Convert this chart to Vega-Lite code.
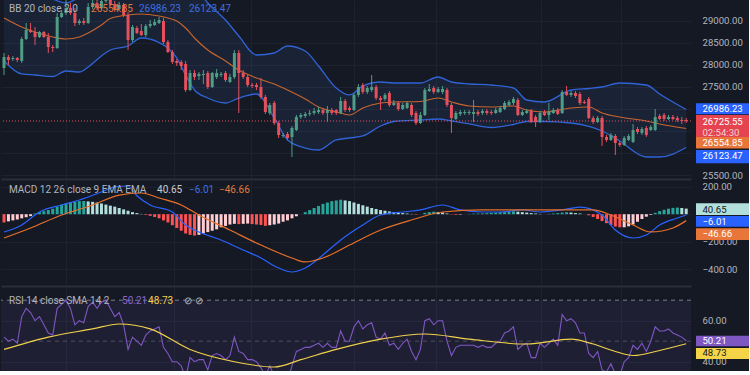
{
"$schema":"https://vega.github.io/schema/vega-lite/v6.json",
"background":"#151924",
"padding":0,
"spacing":1,
"config":{"view":{"stroke":null},"font":"Roboto","axis":{"labelColor":"#b2b5be","labelFontSize":9.6,"labelPadding":11,"ticks":false,"tickSize":0,"domainColor":"#2a2e39","gridColor":"#1e2230","labelOverlap":false}},
"datasets":{
"candles":[
{"i":0,"o":27928,"h":28268,"l":27769,"c":28177},{"i":1,"o":28177,"h":28223,"l":27996,"c":28109},{"i":2,"o":28132,"h":28200,"l":28087,"c":28155},{"i":3,"o":28155,"h":28177,"l":28064,"c":28109},{"i":4,"o":28087,"h":28631,"l":28041,"c":28586},{"i":5,"o":28586,"h":28948,"l":28563,"c":28790},{"i":6,"o":28790,"h":28948,"l":28722,"c":28744},{"i":7,"o":28744,"h":28858,"l":28449,"c":28631},{"i":8,"o":28631,"h":28767,"l":28608,"c":28744},{"i":9,"o":28744,"h":28767,"l":28608,"c":28631},
{"i":10,"o":28631,"h":28722,"l":28268,"c":28404},{"i":11,"o":28404,"h":28449,"l":28291,"c":28381},{"i":12,"o":28381,"h":29175,"l":28359,"c":29084},{"i":13,"o":29084,"h":29243,"l":29062,"c":29175},{"i":14,"o":29175,"h":29470,"l":29130,"c":29289},{"i":15,"o":29289,"h":29402,"l":29130,"c":29175},{"i":16,"o":29175,"h":29289,"l":28880,"c":28948},{"i":17,"o":28948,"h":29039,"l":28903,"c":28994},{"i":18,"o":28994,"h":29062,"l":28903,"c":28948},{"i":19,"o":28948,"h":29402,"l":28926,"c":29311},
{"i":20,"o":29311,"h":29515,"l":29266,"c":29402},{"i":21,"o":29402,"h":29470,"l":29243,"c":29289},{"i":22,"o":29289,"h":29561,"l":29266,"c":29447},{"i":23,"o":29447,"h":29583,"l":29402,"c":29515},{"i":24,"o":29515,"h":29561,"l":29334,"c":29379},{"i":25,"o":29379,"h":29447,"l":29198,"c":29266},{"i":26,"o":29266,"h":29425,"l":29221,"c":29357},{"i":27,"o":29357,"h":29402,"l":29084,"c":29130},{"i":28,"o":29130,"h":29198,"l":28336,"c":28563},{"i":29,"o":28563,"h":28903,"l":28517,"c":28858},
{"i":30,"o":28835,"h":28880,"l":28699,"c":28722},{"i":31,"o":28767,"h":28926,"l":28654,"c":28676},{"i":32,"o":28676,"h":28926,"l":28631,"c":28880},{"i":33,"o":28880,"h":29016,"l":28835,"c":28926},{"i":34,"o":28903,"h":29039,"l":28880,"c":28971},{"i":35,"o":28948,"h":29084,"l":28926,"c":29016},{"i":36,"o":28994,"h":29062,"l":28472,"c":28517},{"i":37,"o":28517,"h":28563,"l":28268,"c":28291},{"i":38,"o":28291,"h":28336,"l":28019,"c":28064},{"i":39,"o":28087,"h":28132,"l":27973,"c":28041},
{"i":40,"o":28064,"h":28109,"l":27882,"c":27973},{"i":41,"o":28019,"h":28087,"l":27384,"c":27429},{"i":42,"o":27429,"h":27882,"l":27406,"c":27814},{"i":43,"o":27814,"h":27882,"l":27656,"c":27724},{"i":44,"o":27746,"h":27837,"l":27656,"c":27792},{"i":45,"o":27769,"h":27882,"l":27565,"c":27792},{"i":46,"o":27814,"h":27860,"l":27452,"c":27497},{"i":47,"o":27497,"h":27837,"l":27474,"c":27814},{"i":48,"o":27724,"h":27905,"l":27678,"c":27814},{"i":49,"o":27769,"h":27837,"l":27724,"c":27792},
{"i":50,"o":27814,"h":27860,"l":27610,"c":27656},{"i":51,"o":27610,"h":27792,"l":27588,"c":27724},{"i":52,"o":27724,"h":28336,"l":27678,"c":28268},{"i":53,"o":28268,"h":28336,"l":26907,"c":27814},{"i":54,"o":27814,"h":27882,"l":27678,"c":27724},{"i":55,"o":27724,"h":27769,"l":27497,"c":27542},{"i":56,"o":27542,"h":27588,"l":27474,"c":27520},{"i":57,"o":27542,"h":27588,"l":27429,"c":27497},{"i":58,"o":27497,"h":27701,"l":27225,"c":27270},{"i":59,"o":27270,"h":27316,"l":26885,"c":26930},
{"i":60,"o":26907,"h":27134,"l":26862,"c":27089},{"i":61,"o":27134,"h":27179,"l":26635,"c":26680},{"i":62,"o":26680,"h":26726,"l":26340,"c":26408},{"i":63,"o":26386,"h":26454,"l":26340,"c":26408},{"i":64,"o":26431,"h":26476,"l":26295,"c":26340},{"i":65,"o":26363,"h":26612,"l":25909,"c":26567},{"i":66,"o":26522,"h":26862,"l":26499,"c":26816},{"i":67,"o":26816,"h":26907,"l":26771,"c":26862},{"i":68,"o":26839,"h":26930,"l":26794,"c":26885},{"i":69,"o":26885,"h":26975,"l":26839,"c":26907},
{"i":70,"o":26907,"h":27021,"l":26862,"c":26953},{"i":71,"o":26930,"h":27043,"l":26885,"c":26975},{"i":72,"o":26975,"h":27021,"l":26862,"c":26907},{"i":73,"o":26907,"h":27066,"l":26703,"c":26975},{"i":74,"o":26975,"h":27021,"l":26862,"c":26907},{"i":75,"o":26975,"h":26998,"l":26862,"c":26907},{"i":76,"o":26907,"h":27270,"l":26885,"c":27179},{"i":77,"o":27179,"h":27225,"l":26930,"c":26975},{"i":78,"o":27021,"h":27066,"l":26930,"c":26975},{"i":79,"o":26975,"h":27361,"l":26953,"c":27316},
{"i":80,"o":27316,"h":27565,"l":27270,"c":27497},{"i":81,"o":27542,"h":27588,"l":27338,"c":27384},{"i":82,"o":27384,"h":27520,"l":27338,"c":27474},{"i":83,"o":27429,"h":27769,"l":27384,"c":27497},{"i":84,"o":27497,"h":27542,"l":27202,"c":27247},{"i":85,"o":27247,"h":27293,"l":26975,"c":27202},{"i":86,"o":27225,"h":27361,"l":27179,"c":27316},{"i":87,"o":27361,"h":27406,"l":27043,"c":27089},{"i":88,"o":27089,"h":27202,"l":27066,"c":27134},{"i":89,"o":27134,"h":27179,"l":26953,"c":26998},
{"i":90,"o":26998,"h":27134,"l":26975,"c":27089},{"i":91,"o":27021,"h":27179,"l":26998,"c":27134},{"i":92,"o":27089,"h":27134,"l":26816,"c":26862},{"i":93,"o":26907,"h":26953,"l":26635,"c":26680},{"i":94,"o":26680,"h":26930,"l":26658,"c":26862},{"i":95,"o":26862,"h":27474,"l":26839,"c":27429},{"i":96,"o":27406,"h":27565,"l":27384,"c":27452},{"i":97,"o":27474,"h":27520,"l":27338,"c":27384},{"i":98,"o":27384,"h":27497,"l":27361,"c":27452},{"i":99,"o":27384,"h":27520,"l":27338,"c":27452},
{"i":100,"o":27429,"h":27474,"l":27043,"c":27089},{"i":101,"o":27089,"h":27134,"l":26454,"c":26794},{"i":102,"o":26771,"h":26953,"l":26748,"c":26907},{"i":103,"o":26885,"h":26975,"l":26839,"c":26930},{"i":104,"o":26907,"h":26975,"l":26862,"c":26930},{"i":105,"o":26907,"h":26975,"l":26862,"c":26930},{"i":106,"o":26885,"h":27202,"l":26703,"c":26930},{"i":107,"o":26930,"h":26975,"l":26839,"c":26885},{"i":108,"o":26907,"h":26998,"l":26862,"c":26953},{"i":109,"o":26953,"h":26998,"l":26862,"c":26907},
{"i":110,"o":26930,"h":26975,"l":26862,"c":26907},{"i":111,"o":26907,"h":27021,"l":26885,"c":26975},{"i":112,"o":26930,"h":27066,"l":26907,"c":27021},{"i":113,"o":26998,"h":27179,"l":26975,"c":27134},{"i":114,"o":27089,"h":27202,"l":27066,"c":27157},{"i":115,"o":27134,"h":27270,"l":27089,"c":27225},{"i":116,"o":27202,"h":27247,"l":26839,"c":26862},{"i":117,"o":26862,"h":26975,"l":26839,"c":26930},{"i":118,"o":26907,"h":26998,"l":26885,"c":26953},{"i":119,"o":26953,"h":26998,"l":26680,"c":26703},
{"i":120,"o":26816,"h":26862,"l":26590,"c":26703},{"i":121,"o":26703,"h":26953,"l":26680,"c":26907},{"i":122,"o":26930,"h":26975,"l":26839,"c":26862},{"i":123,"o":26862,"h":27134,"l":26748,"c":26930},{"i":124,"o":26907,"h":27021,"l":26885,"c":26975},{"i":125,"o":26975,"h":27021,"l":26862,"c":26885},{"i":126,"o":26907,"h":27429,"l":26885,"c":27384},{"i":127,"o":27384,"h":27520,"l":27293,"c":27316},{"i":128,"o":27316,"h":27406,"l":27270,"c":27361},{"i":129,"o":27361,"h":27406,"l":27247,"c":27293},
{"i":130,"o":27338,"h":27384,"l":27089,"c":27134},{"i":131,"o":27157,"h":27202,"l":27111,"c":27134},{"i":132,"o":27225,"h":27270,"l":26771,"c":26794},{"i":133,"o":26794,"h":26839,"l":26658,"c":26703},{"i":134,"o":26703,"h":26839,"l":26680,"c":26794},{"i":135,"o":26794,"h":26839,"l":26159,"c":26363},{"i":136,"o":26363,"h":26408,"l":26249,"c":26295},{"i":137,"o":26295,"h":26454,"l":26272,"c":26408},{"i":138,"o":26386,"h":26431,"l":25955,"c":26227},{"i":139,"o":26227,"h":26272,"l":26136,"c":26181},
{"i":140,"o":26181,"h":26386,"l":26159,"c":26340},{"i":141,"o":26295,"h":26431,"l":26272,"c":26386},{"i":142,"o":26249,"h":26658,"l":26227,"c":26522},{"i":143,"o":26544,"h":26590,"l":26431,"c":26476},{"i":144,"o":26454,"h":26590,"l":26408,"c":26544},{"i":145,"o":26567,"h":26612,"l":26363,"c":26408},{"i":146,"o":26522,"h":26635,"l":26499,"c":26590},{"i":147,"o":26522,"h":26998,"l":26499,"c":26816},{"i":148,"o":26839,"h":26885,"l":26748,"c":26771},{"i":149,"o":26862,"h":26907,"l":26726,"c":26771},
{"i":150,"o":26771,"h":26862,"l":26748,"c":26816},{"i":151,"o":26816,"h":26862,"l":26748,"c":26771},{"i":152,"o":26794,"h":26839,"l":26703,"c":26748},{"i":153,"o":26748,"h":26816,"l":26658,"c":26726},{"i":154,"o":26748,"h":26794,"l":26680,"c":26725.55}
],
"bb":[
{"i":0,"up":30037,"mid":29062,"lo":28087},{"i":4,"up":29924,"mid":28858,"lo":27792},{"i":7,"up":29719,"mid":28744,"lo":27769},{"i":11,"up":29493,"mid":28631,"lo":27735},{"i":14,"up":29402,"mid":28586,"lo":27860},{"i":17,"up":29538,"mid":28631,"lo":27837},{"i":19,"up":29651,"mid":28722,"lo":27950},{"i":22,"up":29606,"mid":28903,"lo":28200},{"i":24,"up":29765,"mid":29050,"lo":28336},{"i":28,"up":29833,"mid":29130,"lo":28427},
{"i":31,"up":29697,"mid":29153,"lo":28608},{"i":35,"up":29708,"mid":29107,"lo":28506},{"i":37,"up":29742,"mid":29062,"lo":28381},{"i":39,"up":29833,"mid":28994,"lo":28155},{"i":41,"up":29901,"mid":28835,"lo":27769},{"i":43,"up":29788,"mid":28608,"lo":27429},{"i":46,"up":29402,"mid":28336,"lo":27247},{"i":50,"up":29016,"mid":28087,"lo":27134},{"i":53,"up":28654,"mid":27882,"lo":27247},{"i":57,"up":28223,"mid":27701,"lo":27338},
{"i":61,"up":28268,"mid":27565,"lo":26794},{"i":64,"up":28427,"mid":27429,"lo":26295},{"i":68,"up":28313,"mid":27225,"lo":26113},{"i":71,"up":27973,"mid":27043,"lo":26068},{"i":75,"up":27474,"mid":26930,"lo":26295},{"i":78,"up":27316,"mid":26862,"lo":26340},{"i":81,"up":27520,"mid":27021,"lo":26386},{"i":85,"up":27610,"mid":27134,"lo":26612},{"i":88,"up":27588,"mid":27157,"lo":26714},{"i":94,"up":27588,"mid":27168,"lo":26748},
{"i":98,"up":27724,"mid":27247,"lo":26771},{"i":101,"up":27610,"mid":27157,"lo":26726},{"i":105,"up":27565,"mid":27066,"lo":26658},{"i":110,"up":27542,"mid":27043,"lo":26578},{"i":115,"up":27474,"mid":27066,"lo":26646},{"i":118,"up":27202,"mid":26975,"lo":26714},{"i":122,"up":27157,"mid":26930,"lo":26714},{"i":128,"up":27429,"mid":27021,"lo":26680},{"i":132,"up":27463,"mid":27043,"lo":26601},{"i":135,"up":27497,"mid":26907,"lo":26499},
{"i":139,"up":27588,"mid":26816,"lo":26272},{"i":145,"up":27542,"mid":26726,"lo":25909},{"i":148,"up":27338,"mid":26658,"lo":25909},{"i":154,"up":26986.23,"mid":26554.85,"lo":26123.47}
],
"last":[{"k":"up","v":26986.23},{"k":"close","v":26725.55,"cd":"02:54:30"},{"k":"mid","v":26554.85},{"k":"lo","v":26123.47}],
"hist":[
{"i":0,"h":-60},{"i":1,"h":-52},{"i":2,"h":-45},{"i":3,"h":-38},{"i":4,"h":-30},{"i":5,"h":-22},{"i":6,"h":-14},{"i":7,"h":5},{"i":8,"h":15},{"i":9,"h":22},{"i":10,"h":30},{"i":11,"h":40},{"i":12,"h":55},{"i":13,"h":70},{"i":14,"h":80},{"i":15,"h":88},{"i":16,"h":92},{"i":17,"h":95},{"i":18,"h":96},{"i":19,"h":93},
{"i":20,"h":90},{"i":21,"h":85},{"i":22,"h":78},{"i":23,"h":70},{"i":24,"h":62},{"i":25,"h":55},{"i":26,"h":45},{"i":27,"h":35},{"i":28,"h":25},{"i":29,"h":15},{"i":30,"h":8},{"i":31,"h":2},{"i":32,"h":-5},{"i":33,"h":-12},{"i":34,"h":-20},{"i":35,"h":-30},{"i":36,"h":-45},{"i":37,"h":-60},{"i":38,"h":-80},{"i":39,"h":-100},
{"i":40,"h":-120},{"i":41,"h":-140},{"i":42,"h":-150},{"i":43,"h":-155},{"i":44,"h":-150},{"i":45,"h":-140},{"i":46,"h":-130},{"i":47,"h":-120},{"i":48,"h":-110},{"i":49,"h":-95},{"i":50,"h":-85},{"i":51,"h":-75},{"i":52,"h":-70},{"i":53,"h":-72},{"i":54,"h":-70},{"i":55,"h":-68},{"i":56,"h":-72},{"i":57,"h":-75},{"i":58,"h":-78},{"i":59,"h":-85},
{"i":60,"h":-80},{"i":61,"h":-75},{"i":62,"h":-68},{"i":63,"h":-55},{"i":64,"h":-45},{"i":65,"h":-30},{"i":66,"h":-15},{"i":67,"h":0},{"i":68,"h":15},{"i":69,"h":30},{"i":70,"h":45},{"i":71,"h":60},{"i":72,"h":75},{"i":73,"h":85},{"i":74,"h":95},{"i":75,"h":100},{"i":76,"h":105},{"i":77,"h":100},{"i":78,"h":95},{"i":79,"h":85},
{"i":80,"h":75},{"i":81,"h":65},{"i":82,"h":55},{"i":83,"h":45},{"i":84,"h":38},{"i":85,"h":30},{"i":86,"h":25},{"i":87,"h":20},{"i":88,"h":15},{"i":89,"h":10},{"i":90,"h":8},{"i":91,"h":5},{"i":92,"h":2},{"i":93,"h":-3},{"i":94,"h":0},{"i":95,"h":10},{"i":96,"h":15},{"i":97,"h":18},{"i":98,"h":16},{"i":99,"h":12},
{"i":100,"h":5},{"i":101,"h":-2},{"i":102,"h":-5},{"i":103,"h":-3},{"i":104,"h":0},{"i":105,"h":2},{"i":106,"h":4},{"i":107,"h":5},{"i":108,"h":6},{"i":109,"h":8},{"i":110,"h":10},{"i":111,"h":12},{"i":112,"h":15},{"i":113,"h":18},{"i":114,"h":20},{"i":115,"h":22},{"i":116,"h":18},{"i":117,"h":15},{"i":118,"h":12},{"i":119,"h":8},
{"i":120,"h":5},{"i":121,"h":2},{"i":122,"h":0},{"i":123,"h":3},{"i":124,"h":5},{"i":125,"h":8},{"i":126,"h":12},{"i":127,"h":15},{"i":128,"h":12},{"i":129,"h":8},{"i":130,"h":5},{"i":131,"h":0},{"i":132,"h":-8},{"i":133,"h":-20},{"i":134,"h":-35},{"i":135,"h":-50},{"i":136,"h":-65},{"i":137,"h":-78},{"i":138,"h":-90},{"i":139,"h":-95},
{"i":140,"h":-95},{"i":141,"h":-88},{"i":142,"h":-75},{"i":143,"h":-55},{"i":144,"h":-35},{"i":145,"h":-18},{"i":146,"h":-5},{"i":147,"h":10},{"i":148,"h":22},{"i":149,"h":32},{"i":150,"h":40},{"i":151,"h":46},{"i":152,"h":48},{"i":153,"h":45},{"i":154,"h":40.65}
],
"macd":[
{"i":0,"v":-129},{"i":4,"v":-78},{"i":8,"v":16},{"i":13,"v":67},{"i":17,"v":103},{"i":22,"v":161},{"i":25,"v":198},{"i":28,"v":205},{"i":30,"v":134},{"i":33,"v":67},{"i":38,"v":16},{"i":41,"v":-78},{"i":44,"v":-129},{"i":49,"v":-187},{"i":54,"v":-260},{"i":58,"v":-318},{"i":62,"v":-391},{"i":65,"v":-420},{"i":68,"v":-391},{"i":72,"v":-296},{"i":76,"v":-187},{"i":81,"v":-78},{"i":85,"v":-6},{"i":90,"v":16},{"i":94,"v":31},{"i":99,"v":67},{"i":103,"v":31},{"i":108,"v":16},{"i":112,"v":16},{"i":117,"v":31},{"i":121,"v":16},{"i":126,"v":31},{"i":130,"v":52},{"i":135,"v":-6},{"i":138,"v":-115},{"i":142,"v":-173},{"i":145,"v":-151},{"i":148,"v":-78},{"i":152,"v":-28},{"i":154,"v":-6.01}
],
"sig":[
{"i":0,"v":-173},{"i":6,"v":-100},{"i":13,"v":-6},{"i":20,"v":67},{"i":26,"v":139},{"i":31,"v":154},{"i":35,"v":118},{"i":40,"v":67},{"i":44,"v":-6},{"i":51,"v":-115},{"i":58,"v":-224},{"i":65,"v":-318},{"i":68,"v":-347},{"i":72,"v":-318},{"i":78,"v":-224},{"i":85,"v":-115},{"i":92,"v":-42},{"i":99,"v":16},{"i":108,"v":31},{"i":117,"v":31},{"i":126,"v":31},{"i":133,"v":31},{"i":137,"v":-6},{"i":142,"v":-78},{"i":146,"v":-129},{"i":151,"v":-100},{"i":154,"v":-46.66}
],
"mlast":[{"k":"hist","v":40.65},{"k":"macd","v":-6.01},{"k":"sig","v":-46.66}],
"rsi":[
{"i":0,"r":52},{"i":1,"r":50},{"i":2,"r":51},{"i":3,"r":49},{"i":4,"r":62},{"i":5,"r":66},{"i":6,"r":64},{"i":7,"r":60},{"i":8,"r":62},{"i":9,"r":58},{"i":10,"r":54},{"i":11,"r":53},{"i":12,"r":66},{"i":13,"r":68},{"i":14,"r":70},{"i":15,"r":66},{"i":16,"r":58},{"i":17,"r":60},{"i":18,"r":59},{"i":19,"r":67},
{"i":20,"r":69},{"i":21,"r":66},{"i":22,"r":69},{"i":23,"r":70},{"i":24,"r":66},{"i":25,"r":62},{"i":26,"r":64},{"i":27,"r":58},{"i":28,"r":46},{"i":29,"r":52},{"i":30,"r":50},{"i":31,"r":48},{"i":32,"r":53},{"i":33,"r":55},{"i":34,"r":56},{"i":35,"r":57},{"i":36,"r":47},{"i":37,"r":44},{"i":38,"r":40},{"i":39,"r":40},
{"i":40,"r":38},{"i":41,"r":32},{"i":42,"r":42},{"i":43,"r":40},{"i":44,"r":41},{"i":45,"r":41},{"i":46,"r":36},{"i":47,"r":43},{"i":48,"r":44},{"i":49,"r":43},{"i":50,"r":41},{"i":51,"r":43},{"i":52,"r":52},{"i":53,"r":45},{"i":54,"r":44},{"i":55,"r":41},{"i":56,"r":41},{"i":57,"r":40},{"i":58,"r":37},{"i":59,"r":33},
{"i":60,"r":38},{"i":61,"r":33},{"i":62,"r":30},{"i":63,"r":31},{"i":64,"r":30},{"i":65,"r":38},{"i":66,"r":45},{"i":67,"r":46},{"i":68,"r":47},{"i":69,"r":47},{"i":70,"r":48},{"i":71,"r":49},{"i":72,"r":47},{"i":73,"r":49},{"i":74,"r":47},{"i":75,"r":47},{"i":76,"r":55},{"i":77,"r":50},{"i":78,"r":50},{"i":79,"r":57},
{"i":80,"r":60},{"i":81,"r":56},{"i":82,"r":58},{"i":83,"r":59},{"i":84,"r":52},{"i":85,"r":51},{"i":86,"r":54},{"i":87,"r":48},{"i":88,"r":49},{"i":89,"r":46},{"i":90,"r":49},{"i":91,"r":51},{"i":92,"r":45},{"i":93,"r":41},{"i":94,"r":46},{"i":95,"r":60},{"i":96,"r":61},{"i":97,"r":58},{"i":98,"r":60},{"i":99,"r":60},
{"i":100,"r":50},{"i":101,"r":43},{"i":102,"r":47},{"i":103,"r":48},{"i":104,"r":48},{"i":105,"r":48},{"i":106,"r":48},{"i":107,"r":47},{"i":108,"r":48},{"i":109,"r":47},{"i":110,"r":47},{"i":111,"r":49},{"i":112,"r":50},{"i":113,"r":54},{"i":114,"r":55},{"i":115,"r":57},{"i":116,"r":46},{"i":117,"r":48},{"i":118,"r":49},{"i":119,"r":42},
{"i":120,"r":42},{"i":121,"r":49},{"i":122,"r":47},{"i":123,"r":49},{"i":124,"r":51},{"i":125,"r":48},{"i":126,"r":63},{"i":127,"r":60},{"i":128,"r":61},{"i":129,"r":59},{"i":130,"r":54},{"i":131,"r":54},{"i":132,"r":44},{"i":133,"r":42},{"i":134,"r":45},{"i":135,"r":36},{"i":136,"r":35},{"i":137,"r":39},{"i":138,"r":34},{"i":139,"r":33},
{"i":140,"r":40},{"i":141,"r":42},{"i":142,"r":48},{"i":143,"r":46},{"i":144,"r":49},{"i":145,"r":45},{"i":146,"r":50},{"i":147,"r":57},{"i":148,"r":55},{"i":149,"r":55},{"i":150,"r":56},{"i":151,"r":54},{"i":152,"r":53},{"i":153,"r":52},{"i":154,"r":50.21}
],
"rsma":[
{"i":0,"s":46},{"i":10,"s":52},{"i":20,"s":56},{"i":26,"s":58.4},{"i":33,"s":56},{"i":42,"s":46},{"i":52,"s":40},{"i":61,"s":37.4},{"i":67,"s":41},{"i":75,"s":46},{"i":85,"s":51},{"i":95,"s":53.5},{"i":105,"s":51},{"i":118,"s":48.6},{"i":128,"s":51},{"i":133,"s":48.6},{"i":138,"s":45},{"i":142,"s":43},{"i":148,"s":45.5},{"i":154,"s":48.73}
],
"rlast":[{"k":"rsi","v":50.21},{"k":"sma","v":48.73}]
},
"vconcat":[
{
"width":690,"height":179,
"layer":[
{"data":{"name":"bb"},"mark":{"type":"area","clip":true,"interpolate":"monotone","color":"#3a6ea8","opacity":0.13},
"encoding":{
"x":{"field":"i","type":"quantitative","title":null,"scale":{"domain":[-0.68,155.08],"nice":false,"zero":false,"padding":0},"axis":{"orient":"bottom","values":[14,38.4,55.8,79,97.5,121.2,139.3],"tickCount":30,"labels":false,"domain":true,"domainWidth":2,"grid":true}},
"y":{"field":"lo","type":"quantitative","title":null,"scale":{"domain":[25410,29470],"nice":false,"zero":false,"padding":0},"axis":{"orient":"right","values":[25500,26000,26500,27000,27500,28000,28500,29000],"tickCount":30,"format":".2f","labelExpr":"datum.value >= 26000 && datum.value <= 27000 ? '' : datum.label","labelOverlap":false,"domain":false,"grid":true}},
"y2":{"field":"up"}}},
{"data":{"name":"bb"},"mark":{"type":"line","clip":true,"interpolate":"monotone","color":"#2f63d6","strokeWidth":1.3},
"encoding":{"x":{"field":"i","type":"quantitative","title":null},"y":{"field":"up","type":"quantitative","title":null}}},
{"data":{"name":"bb"},"mark":{"type":"line","clip":true,"interpolate":"monotone","color":"#2f63d6","strokeWidth":1.3},
"encoding":{"x":{"field":"i","type":"quantitative","title":null},"y":{"field":"lo","type":"quantitative","title":null}}},
{"data":{"name":"bb"},"mark":{"type":"line","clip":true,"interpolate":"monotone","color":"#c8652f","strokeWidth":1.1},
"encoding":{"x":{"field":"i","type":"quantitative","title":null},"y":{"field":"mid","type":"quantitative","title":null}}},
{"data":{"name":"last"},"transform":[{"filter":"datum.k=='close'"}],"mark":{"type":"rule","color":"#e5505c","strokeDash":[1,2],"strokeWidth":1},
"encoding":{"y":{"field":"v","type":"quantitative","title":null}}},
{"data":{"name":"candles"},"mark":{"type":"rule","clip":true,"strokeWidth":1},
"encoding":{"x":{"field":"i","type":"quantitative","title":null},"y":{"field":"l","type":"quantitative","title":null},"y2":{"field":"h"},
"color":{"condition":{"test":"datum.c >= datum.o","value":"#4f9d86"},"value":"#e5505c"}}},
{"data":{"name":"candles"},"mark":{"type":"bar","clip":true,"width":3},
"encoding":{"x":{"field":"i","type":"quantitative","title":null},"y":{"field":"o","type":"quantitative","title":null},"y2":{"field":"c"},
"color":{"condition":{"test":"datum.c >= datum.o","value":"#4f9d86"},"value":"#e5505c"}}},
{"data":{"values":[{"t":"BB 20 close 2.0"}]},"mark":{"type":"text","align":"left","baseline":"middle","fontSize":10,"color":"#b2b5be"},
"encoding":{"text":{"field":"t"},"x":{"datum":1.13,"title":null},"y":{"datum":29277,"title":null}}},
{"data":{"name":"last"},"transform":[{"filter":"datum.k=='mid'"}],"mark":{"type":"text","align":"left","baseline":"middle","fontSize":10,"color":"#e07a3c"},
"encoding":{"text":{"field":"v","type":"quantitative","format":".2f"},"x":{"datum":19.64,"title":null},"y":{"datum":29277,"title":null}}},
{"data":{"name":"last"},"transform":[{"filter":"datum.k=='up'"}],"mark":{"type":"text","align":"left","baseline":"middle","fontSize":10,"color":"#3d6fe0"},
"encoding":{"text":{"field":"v","type":"quantitative","format":".2f"},"x":{"datum":30.47,"title":null},"y":{"datum":29277,"title":null}}},
{"data":{"name":"last"},"transform":[{"filter":"datum.k=='lo'"}],"mark":{"type":"text","align":"left","baseline":"middle","fontSize":10,"color":"#3d6fe0"},
"encoding":{"text":{"field":"v","type":"quantitative","format":".2f"},"x":{"datum":41.76,"title":null},"y":{"datum":29277,"title":null}}},
{"data":{"name":"last"},"transform":[{"filter":"datum.k=='up'"}],"mark":{"type":"rect","color":"#2962ff","yOffset":-6.2,"y2Offset":4.8},
"encoding":{"x":{"datum":156.21,"title":null},"x2":{"datum":168.17},"y":{"field":"v","type":"quantitative","title":null},"y2":{"field":"v"}}},
{"data":{"name":"last"},"transform":[{"filter":"datum.k=='close'"}],"mark":{"type":"rect","color":"#e5434f","yOffset":-6,"y2Offset":16.3},
"encoding":{"x":{"datum":156.21,"title":null},"x2":{"datum":168.17},"y":{"field":"v","type":"quantitative","title":null},"y2":{"field":"v"}}},
{"data":{"name":"last"},"transform":[{"filter":"datum.k=='mid'"}],"mark":{"type":"rect","color":"#e8753a","yOffset":8.4,"y2Offset":20},
"encoding":{"x":{"datum":156.21,"title":null},"x2":{"datum":168.17},"y":{"field":"v","type":"quantitative","title":null},"y2":{"field":"v"}}},
{"data":{"name":"last"},"transform":[{"filter":"datum.k=='lo'"}],"mark":{"type":"rect","color":"#2962ff","yOffset":2.5,"y2Offset":15.8},
"encoding":{"x":{"datum":156.21,"title":null},"x2":{"datum":168.17},"y":{"field":"v","type":"quantitative","title":null},"y2":{"field":"v"}}},
{"data":{"name":"last"},"transform":[{"filter":"datum.k=='up'"}],"mark":{"type":"text","align":"left","baseline":"middle","fontSize":9.6,"color":"#ffffff","dy":-0.5},
"encoding":{"text":{"field":"v","type":"quantitative","format":".2f"},"x":{"datum":157.67,"title":null},"y":{"field":"v","type":"quantitative","title":null}}},
{"data":{"name":"last"},"transform":[{"filter":"datum.k=='close'"}],"mark":{"type":"text","align":"left","baseline":"middle","fontSize":9.6,"color":"#ffffff","dy":1.3},
"encoding":{"text":{"field":"v","type":"quantitative","format":".2f"},"x":{"datum":157.67,"title":null},"y":{"field":"v","type":"quantitative","title":null}}},
{"data":{"name":"last"},"transform":[{"filter":"datum.k=='close'"}],"mark":{"type":"text","align":"left","baseline":"middle","fontSize":9.6,"color":"#f4d0d3","dy":11.7},
"encoding":{"text":{"field":"cd"},"x":{"datum":157.67,"title":null},"y":{"field":"v","type":"quantitative","title":null}}},
{"data":{"name":"last"},"transform":[{"filter":"datum.k=='mid'"}],"mark":{"type":"text","align":"left","baseline":"middle","fontSize":9.6,"color":"#ffffff","dy":14.7},
"encoding":{"text":{"field":"v","type":"quantitative","format":".2f"},"x":{"datum":157.67,"title":null},"y":{"field":"v","type":"quantitative","title":null}}},
{"data":{"name":"last"},"transform":[{"filter":"datum.k=='lo'"}],"mark":{"type":"text","align":"left","baseline":"middle","fontSize":9.6,"color":"#ffffff","dy":8.2},
"encoding":{"text":{"field":"v","type":"quantitative","format":".2f"},"x":{"datum":157.67,"title":null},"y":{"field":"v","type":"quantitative","title":null}}}
]
},
{
"width":690,"height":105,
"layer":[
{"data":{"name":"hist"},"transform":[{"window":[{"op":"lag","field":"h","as":"hp"}],"sort":[{"field":"i"}]}],"mark":{"type":"bar","clip":true,"width":3},
"encoding":{
"x":{"field":"i","type":"quantitative","title":null,"scale":{"domain":[-0.68,155.08],"nice":false,"zero":false,"padding":0},"axis":{"orient":"bottom","values":[14,38.4,55.8,79,97.5,121.2,139.3],"tickCount":30,"labels":false,"domain":true,"domainWidth":2,"grid":true}},
"y":{"field":"h","type":"quantitative","title":null,"scale":{"domain":[-521.6,241.2],"nice":false,"zero":false,"padding":0},"axis":{"orient":"right","values":[200,0,-200,-400],"tickCount":30,"format":".2f","labelExpr":"datum.value == 0 ? '' : datum.label","labelOverlap":false,"domain":false,"grid":true}},
"y2":{"datum":0},
"color":{"condition":[{"test":"datum.h >= 0 && datum.h >= datum.hp","value":"#26a69a"},{"test":"datum.h >= 0","value":"#b2dfdb"},{"test":"datum.h < datum.hp","value":"#ff5252"}],"value":"#ffcdd2"}}},
{"data":{"name":"macd"},"mark":{"type":"line","clip":true,"interpolate":"monotone","color":"#2962ff","strokeWidth":1.2},
"encoding":{"x":{"field":"i","type":"quantitative","title":null},"y":{"field":"v","type":"quantitative","title":null}}},
{"data":{"name":"sig"},"mark":{"type":"line","clip":true,"interpolate":"monotone","color":"#e8702a","strokeWidth":1.2},
"encoding":{"x":{"field":"i","type":"quantitative","title":null},"y":{"field":"v","type":"quantitative","title":null}}},
{"data":{"values":[{"t":"MACD 12 26 close 9 EMA EMA"}]},"mark":{"type":"text","align":"left","baseline":"middle","fontSize":10,"color":"#b2b5be"},
"encoding":{"text":{"field":"t"},"x":{"datum":1.13,"title":null},"y":{"datum":175.8,"title":null}}},
{"data":{"name":"mlast"},"transform":[{"filter":"datum.k=='hist'"}],"mark":{"type":"text","align":"left","baseline":"middle","fontSize":10,"color":"#c9cbd1"},
"encoding":{"text":{"field":"v","type":"quantitative","format":".2f"},"x":{"datum":34.54,"title":null},"y":{"datum":175.8,"title":null}}},
{"data":{"name":"mlast"},"transform":[{"filter":"datum.k=='macd'"}],"mark":{"type":"text","align":"left","baseline":"middle","fontSize":10,"color":"#3d6fe0"},
"encoding":{"text":{"field":"v","type":"quantitative","format":".2f"},"x":{"datum":41.76,"title":null},"y":{"datum":175.8,"title":null}}},
{"data":{"name":"mlast"},"transform":[{"filter":"datum.k=='sig'"}],"mark":{"type":"text","align":"left","baseline":"middle","fontSize":10,"color":"#e07a3c"},
"encoding":{"text":{"field":"v","type":"quantitative","format":".2f"},"x":{"datum":48.53,"title":null},"y":{"datum":175.8,"title":null}}},
{"data":{"name":"mlast"},"transform":[{"filter":"datum.k=='hist'"}],"mark":{"type":"rect","color":"#b2dfdb","yOffset":-5.3,"y2Offset":6.4},
"encoding":{"x":{"datum":156.21,"title":null},"x2":{"datum":168.17},"y":{"field":"v","type":"quantitative","title":null},"y2":{"field":"v"}}},
{"data":{"name":"mlast"},"transform":[{"filter":"datum.k=='macd'"}],"mark":{"type":"rect","color":"#2962ff","yOffset":1,"y2Offset":11.7},
"encoding":{"x":{"datum":156.21,"title":null},"x2":{"datum":168.17},"y":{"field":"v","type":"quantitative","title":null},"y2":{"field":"v"}}},
{"data":{"name":"mlast"},"transform":[{"filter":"datum.k=='sig'"}],"mark":{"type":"rect","color":"#e8753a","yOffset":7.7,"y2Offset":19.4},
"encoding":{"x":{"datum":156.21,"title":null},"x2":{"datum":168.17},"y":{"field":"v","type":"quantitative","title":null},"y2":{"field":"v"}}},
{"data":{"name":"mlast"},"transform":[{"filter":"datum.k=='hist'"}],"mark":{"type":"text","align":"left","baseline":"middle","fontSize":9.6,"color":"#131722","dy":1.4},
"encoding":{"text":{"field":"v","type":"quantitative","format":".2f"},"x":{"datum":157.67,"title":null},"y":{"field":"v","type":"quantitative","title":null}}},
{"data":{"name":"mlast"},"transform":[{"filter":"datum.k=='macd'"}],"mark":{"type":"text","align":"left","baseline":"middle","fontSize":9.6,"color":"#ffffff","dy":6.7},
"encoding":{"text":{"field":"v","type":"quantitative","format":".2f"},"x":{"datum":157.67,"title":null},"y":{"field":"v","type":"quantitative","title":null}}},
{"data":{"name":"mlast"},"transform":[{"filter":"datum.k=='sig'"}],"mark":{"type":"text","align":"left","baseline":"middle","fontSize":9.6,"color":"#ffffff","dy":13.4},
"encoding":{"text":{"field":"v","type":"quantitative","format":".2f"},"x":{"datum":157.67,"title":null},"y":{"field":"v","type":"quantitative","title":null}}}
]
},
{
"width":690,"height":84,
"layer":[
{"data":{"values":[{"lv":70,"lv2":30}]},"mark":{"type":"rect","clip":true,"color":"#7e57c2","opacity":0.1},
"encoding":{
"x":{"datum":-0.68,"type":"quantitative","title":null,"scale":{"domain":[-0.68,155.08],"nice":false,"zero":false,"padding":0},"axis":{"orient":"bottom","values":[14,38.4,55.8,79,97.5,121.2,139.3],"tickCount":30,"labels":false,"domain":false,"grid":true}},
"x2":{"datum":155.08},
"y":{"field":"lv","type":"quantitative","title":null,"scale":{"domain":[35.46,76.44],"nice":false,"zero":false,"padding":0},"axis":{"orient":"right","values":[60,40],"tickCount":30,"format":".2f","labelOverlap":false,"domain":false,"grid":true}},
"y2":{"field":"lv2"}}},
{"data":{"values":[{"lv":70}]},"mark":{"type":"rule","color":"#787b86","strokeDash":[4,4],"strokeWidth":1},
"encoding":{"y":{"field":"lv","type":"quantitative","title":null}}},
{"data":{"values":[{"lv":50}]},"mark":{"type":"rule","color":"#787b86","strokeDash":[4,4],"strokeWidth":1,"opacity":0.5},
"encoding":{"y":{"field":"lv","type":"quantitative","title":null}}},
{"data":{"name":"rsi"},"mark":{"type":"line","clip":true,"color":"#7e57c2","strokeWidth":1.1},
"encoding":{"x":{"field":"i","type":"quantitative","title":null},"y":{"field":"r","type":"quantitative","title":null}}},
{"data":{"name":"rsma"},"mark":{"type":"line","clip":true,"interpolate":"monotone","color":"#f2d24b","strokeWidth":1.1},
"encoding":{"x":{"field":"i","type":"quantitative","title":null},"y":{"field":"s","type":"quantitative","title":null}}},
{"data":{"values":[{"t":"RSI 14 close SMA 14 2"}]},"mark":{"type":"text","align":"left","baseline":"middle","fontSize":10,"color":"#b2b5be"},
"encoding":{"text":{"field":"t"},"x":{"datum":1.13,"title":null},"y":{"datum":69.76,"title":null}}},
{"data":{"name":"rlast"},"transform":[{"filter":"datum.k=='rsi'"}],"mark":{"type":"text","align":"left","baseline":"middle","fontSize":10,"color":"#8a66cf"},
"encoding":{"text":{"field":"v","type":"quantitative","format":".2f"},"x":{"datum":26.64,"title":null},"y":{"datum":69.76,"title":null}}},
{"data":{"name":"rlast"},"transform":[{"filter":"datum.k=='sma'"}],"mark":{"type":"text","align":"left","baseline":"middle","fontSize":10,"color":"#f2d24b"},
"encoding":{"text":{"field":"v","type":"quantitative","format":".2f"},"x":{"datum":32.51,"title":null},"y":{"datum":69.76,"title":null}}},
{"data":{"values":[{"t":"⊘"}]},"mark":{"type":"text","align":"left","baseline":"middle","fontSize":10,"color":"#b2b5be"},
"encoding":{"text":{"field":"t"},"x":{"datum":40.63,"title":null},"y":{"datum":69.76,"title":null}}},
{"data":{"values":[{"t":"⊘"}]},"mark":{"type":"text","align":"left","baseline":"middle","fontSize":10,"color":"#b2b5be"},
"encoding":{"text":{"field":"t"},"x":{"datum":43.12,"title":null},"y":{"datum":69.76,"title":null}}},
{"data":{"name":"rlast"},"transform":[{"filter":"datum.k=='rsi'"}],"mark":{"type":"rect","color":"#7e57c2","yOffset":-5.1,"y2Offset":5.5},
"encoding":{"x":{"datum":156.21,"title":null},"x2":{"datum":168.17},"y":{"field":"v","type":"quantitative","title":null},"y2":{"field":"v"}}},
{"data":{"name":"rlast"},"transform":[{"filter":"datum.k=='sma'"}],"mark":{"type":"rect","color":"#f5d547","yOffset":4.2,"y2Offset":15.2},
"encoding":{"x":{"datum":156.21,"title":null},"x2":{"datum":168.17},"y":{"field":"v","type":"quantitative","title":null},"y2":{"field":"v"}}},
{"data":{"name":"rlast"},"transform":[{"filter":"datum.k=='rsi'"}],"mark":{"type":"text","align":"left","baseline":"middle","fontSize":9.6,"color":"#ffffff","dy":0.2},
"encoding":{"text":{"field":"v","type":"quantitative","format":".2f"},"x":{"datum":157.67,"title":null},"y":{"field":"v","type":"quantitative","title":null}}},
{"data":{"name":"rlast"},"transform":[{"filter":"datum.k=='sma'"}],"mark":{"type":"text","align":"left","baseline":"middle","fontSize":9.6,"color":"#131722","dy":9.7},
"encoding":{"text":{"field":"v","type":"quantitative","format":".2f"},"x":{"datum":157.67,"title":null},"y":{"field":"v","type":"quantitative","title":null}}}
]
}
]
}
